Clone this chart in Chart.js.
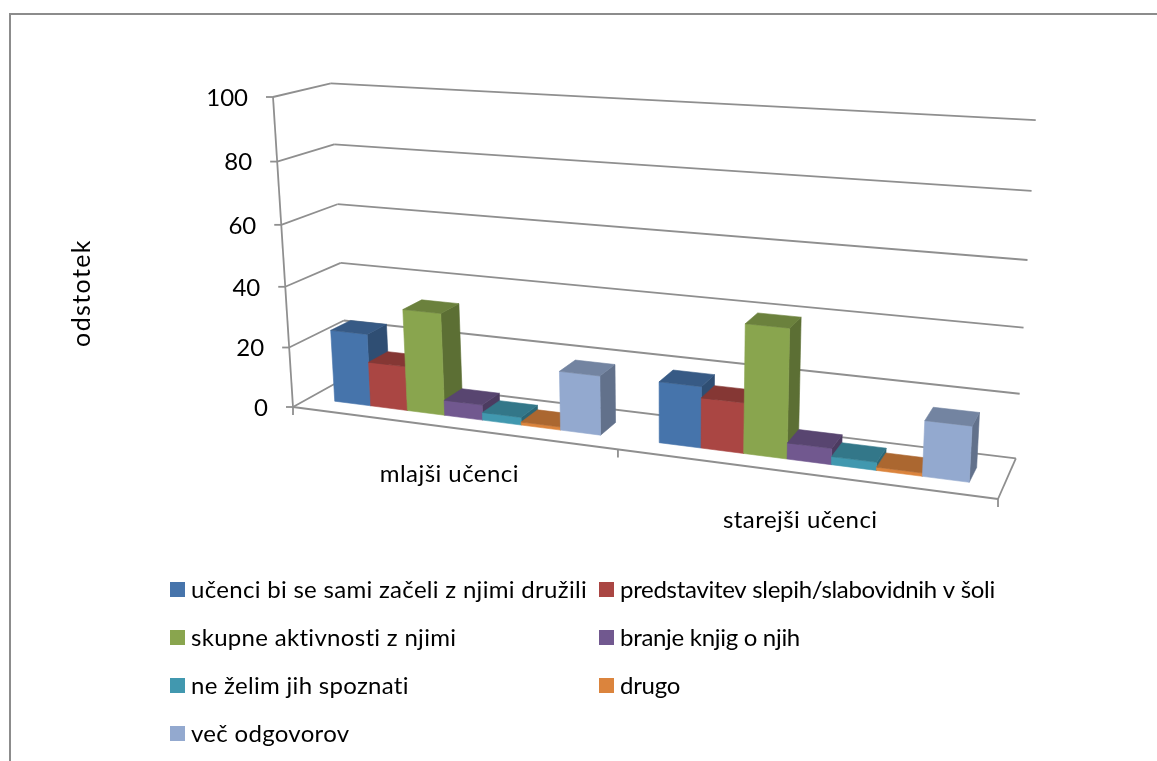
<!DOCTYPE html>
<html>
<head>
<meta charset="utf-8">
<title>odstotek</title>
<script src="https://cdn.jsdelivr.net/npm/chart.js@4/dist/chart.umd.min.js"></script>
<style>
  html, body { margin: 0; padding: 0; background: #fff; overflow: hidden; }
  canvas { display: block; }
</style>
</head>
<body>
<canvas id="chart" width="1157" height="761"></canvas>
<script>
// Values
const categories = ["mlajši učenci", "starejši učenci"];
const seriesNames = [
  "učenci bi se sami začeli z njimi družili",
  "predstavitev slepih/slabovidnih v šoli",
  "skupne aktivnosti z njimi",
  "branje knjig o njih",
  "ne želim jih spoznati",
  "drugo",
  "več odgovorov",
];
const ucenciDruzili = [24, 19.3];
const predstavitev = [14.7, 15.8];
const skupneAktivnosti = [33.5, 40];
const branjeKnjig = [5, 5];
const neZelim = [2.5, 2.5];
const drugo = [1, 1];
const vecOdgovorov = [19, 16.8];
const axisTitle = "odstotek";

const seriesValues = [ucenciDruzili, predstavitev, skupneAktivnosti, branjeKnjig, neZelim, drugo, vecOdgovorov];
const seriesColors = ["#4674ab", "#aa4643", "#89a54e", "#71588f", "#4198af", "#db843d", "#93a9cf"];

const FONT = "Lato, sans-serif";
const GRID = "#8f8f8f";

// Perspective of the 3D box: u along categories, v up the value axis, d into the depth (all 0..1)
const O = { x: 293, y: 407 }, U = { x: 998, y: 499 }, V = { x: 273, y: 97 }, D = { x: 347, y: 377 };
const wu = -0.145, wv = -0.05, wd = 0.0579;

function project(u, v, d) {
  const w = 1 + wu * u + wv * v + wd * d;
  const k = (p, q, wq) => q[p] * (1 + wq) - O[p];
  return {
    x: (O.x + u * k("x", U, wu) + v * k("x", V, wv) + d * k("x", D, wd)) / w,
    y: (O.y + u * k("y", U, wu) + v * k("y", V, wv) + d * k("y", D, wd)) / w,
  };
}

function shade(hex, f) {
  const n = parseInt(hex.slice(1), 16);
  const c = [n >> 16, (n >> 8) & 255, n & 255].map((x) => Math.round(x * f));
  return "rgb(" + c.join(",") + ")";
}

function line(ctx, a, b) {
  ctx.beginPath();
  ctx.moveTo(a.x, a.y);
  ctx.lineTo(b.x, b.y);
  ctx.stroke();
}

function face(ctx, pts, color) {
  ctx.fillStyle = color;
  ctx.strokeStyle = color;
  ctx.lineWidth = 0.6;
  ctx.beginPath();
  pts.forEach((p, i) => (i ? ctx.lineTo(p.x, p.y) : ctx.moveTo(p.x, p.y)));
  ctx.closePath();
  ctx.fill();
  ctx.stroke();
}

const box3d = {
  id: "box3d",
  beforeDatasetsDraw(chart) {
    const ctx = chart.ctx;
    const area = chart.chartArea;
    const xs = chart.scales.x, ys = chart.scales.y;
    const toU = (px) => (px - area.left) / area.width;
    const toV = (px) => (area.bottom - px) / area.height;

    ctx.save();

    // frame of the document around the chart
    ctx.strokeStyle = "#8c8c8c";
    ctx.lineWidth = 2;
    ctx.beginPath();
    ctx.moveTo(10, 761);
    ctx.lineTo(10, 14);
    ctx.lineTo(1157, 14);
    ctx.stroke();

    // walls and floor
    ctx.strokeStyle = GRID;
    ctx.lineWidth = 1.8;
    ctx.fillStyle = "#000";
    ctx.font = "24px " + FONT;
    ys.ticks.forEach((t) => {
      const v = toV(ys.getPixelForValue(t.value));
      const front = project(0, v, 0);
      const back = project(0, v, 1);
      line(ctx, front, back);
      line(ctx, back, project(1, v, 1));
      line(ctx, { x: front.x - 7, y: front.y }, front);
      ctx.textAlign = "right";
      ctx.textBaseline = "middle";
      ctx.fillText(t.label, front.x - 25, front.y + 1);
    });
    line(ctx, project(0, 0, 0), project(0, 1, 0));
    line(ctx, project(0, 0, 0), project(1, 0, 0));
    line(ctx, project(1, 0, 0), project(1, 0, 1));

    // category ticks and labels
    for (let i = 0; i <= categories.length; i++) {
      const p = project(i / categories.length, 0, 0);
      line(ctx, p, { x: p.x, y: p.y + 8 });
    }
    ctx.letterSpacing = "0.45px";
    categories.forEach((c, i) => {
      const p = project(toU(xs.getPixelForValue(i)), 0, 0);
      ctx.textAlign = "center";
      ctx.fillText(xs.getLabelForValue(i), p.x, p.y + 47);
    });

    // bars, left to right so the nearer neighbour covers the side face
    const d1 = 0.29, d2 = 0.66;
    categories.forEach((c, i) => {
      chart.data.datasets.forEach((ds, s) => {
        const el = chart.getDatasetMeta(s).data[i];
        const u1 = toU(el.x - el.width / 2), u2 = toU(el.x + el.width / 2);
        const vb = toV(el.base), vt = toV(el.y);
        const col = ds.backgroundColor;
        face(ctx, [project(u2, vb, d1), project(u2, vb, d2), project(u2, vt, d2), project(u2, vt, d1)], shade(col, 0.67));
        face(ctx, [project(u1, vb, d1), project(u2, vb, d1), project(u2, vt, d1), project(u1, vt, d1)], col);
        face(ctx, [project(u1, vt, d1), project(u2, vt, d1), project(u2, vt, d2), project(u1, vt, d2)], shade(col, 0.78));
      });
    });

    // axis title
    ctx.fillStyle = "#000";
    ctx.save();
    ctx.font = "25px " + FONT;
    ctx.letterSpacing = "1.4px";
    ctx.translate(82, 293);
    ctx.rotate(-Math.PI / 2);
    ctx.textAlign = "center";
    ctx.fillText(axisTitle, 0, 0);
    ctx.restore();

    // legend, two columns
    ctx.textAlign = "left";
    chart.data.datasets.forEach((ds, s) => {
      const col = s % 2;
      const row = Math.floor(s / 2);
      const x = col ? 599 : 170;
      const y = 582 + row * 48;
      ctx.fillStyle = ds.backgroundColor;
      ctx.fillRect(x, y, 15, 15);
      ctx.fillStyle = "#000";
      ctx.letterSpacing = col ? "-0.3px" : "0.3px";
      ctx.fillText(ds.label, x + 21, y + 8);
    });

    ctx.restore();
    return false;
  },
};

new Chart(document.getElementById("chart").getContext("2d"), {
  type: "bar",
  data: {
    labels: categories,
    datasets: seriesNames.map((name, i) => ({
      label: name,
      data: seriesValues[i],
      backgroundColor: seriesColors[i],
      categoryPercentage: 0.83,
      barPercentage: 1,
    })),
  },
  options: {
    responsive: false,
    animation: false,
    layout: { padding: 0 },
    plugins: { legend: { display: false }, tooltip: { enabled: false } },
    scales: {
      x: { grid: { display: false }, border: { display: false }, ticks: { display: false } },
      y: {
        min: 0,
        max: 100,
        grid: { display: false },
        border: { display: false },
        ticks: { display: false, stepSize: 20 },
      },
    },
  },
  plugins: [box3d],
});
</script>
</body>
</html>
